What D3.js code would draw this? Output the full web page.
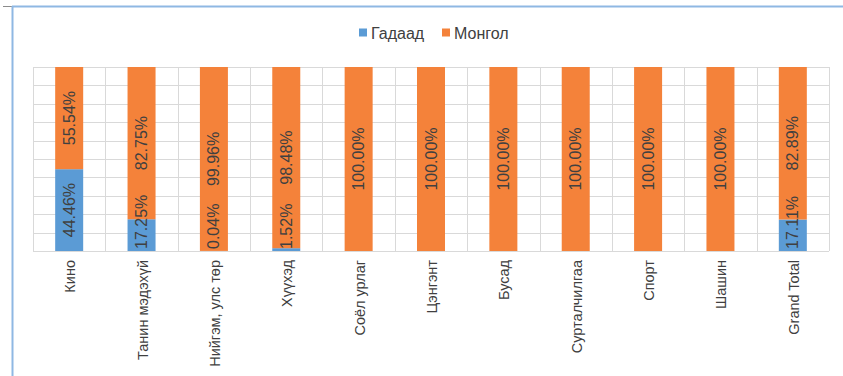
<!DOCTYPE html>
<html>
<head>
<meta charset="utf-8">
<script src="https://cdn.jsdelivr.net/npm/d3@7/dist/d3.min.js"></script>
<style>
  html, body { margin: 0; padding: 0; background: #fff; }
  svg { display: block; font-family: "Liberation Sans", Arial, sans-serif; }
</style>
</head>
<body>
<svg id="chart" width="843" height="376"></svg>
<script>
const categories = ["Кино", "Танин мэдэхүй", "Нийгэм, улс төр", "Хүүхэд", "Соёл урлаг", "Цэнгэнт", "Бусад", "Сурталчилгаа", "Спорт", "Шашин", "Grand Total"];
const gadaad = [44.46, 17.25, 0.04, 1.52, 0, 0, 0, 0, 0, 0, 17.11];
const mongol = [55.54, 82.75, 99.96, 98.48, 100, 100, 100, 100, 100, 100, 82.89];
const seriesNames = ["Гадаад", "Монгол"];
const seriesColors = ["#5B9BD5", "#F4823A"];
const yTicks = [0, 10, 20, 30, 40, 50, 60, 70, 80, 90, 100];

const svg = d3.select("#chart");
const W = 843, H = 376;
const plot = { left: 33, right: 829, top: 67, bottom: 251 };

// frame lines
svg.append("line").attr("x1", 3).attr("x2", 12).attr("y1", 6.5).attr("y2", 6.5)
  .attr("stroke", "#8c8c8c").attr("stroke-width", 1);
svg.append("line").attr("x1", 12).attr("x2", W).attr("y1", 6.5).attr("y2", 6.5)
  .attr("stroke", "#8FB8E3").attr("stroke-width", 2);
svg.append("line").attr("x1", 12.5).attr("x2", 12.5).attr("y1", 6).attr("y2", H)
  .attr("stroke", "#8FB8E3").attr("stroke-width", 2);

const x = d3.scaleBand().domain(categories).range([plot.left, plot.right])
  .paddingInner(0.613).paddingOuter(0.3065);
const y = d3.scaleLinear().domain([0, 100]).range([plot.bottom, plot.top]);

// gridlines
const grid = svg.append("g").attr("stroke", "#D9D9D9").attr("stroke-width", 1);
grid.selectAll("line.h").data(yTicks).join("line").attr("class", "h")
  .attr("x1", plot.left).attr("x2", plot.right)
  .attr("y1", d => Math.round(y(d)) + 0.5).attr("y2", d => Math.round(y(d)) + 0.5);
const step = x.step();
const vIdx = d3.range(categories.length + 1);
grid.selectAll("line.v").data(vIdx).join("line").attr("class", "v")
  .attr("x1", i => Math.round(plot.left + i * step) + 0.5)
  .attr("x2", i => Math.round(plot.left + i * step) + 0.5)
  .attr("y1", plot.top).attr("y2", plot.bottom);

// stacked data
const rows = categories.map((c, i) => ({ cat: c, Гадаад: gadaad[i], Монгол: mongol[i] }));
const stack = d3.stack().keys(seriesNames)(rows);

const bars = svg.append("g");
stack.forEach((layer, si) => {
  bars.selectAll(null).data(layer).join("rect")
    .attr("x", d => x(d.data.cat))
    .attr("width", x.bandwidth())
    .attr("y", d => y(d[1]))
    .attr("height", d => Math.max(0, y(d[0]) - y(d[1])))
    .attr("fill", seriesColors[si]);
});

// bottom axis line
svg.append("line").attr("x1", plot.left).attr("x2", plot.right)
  .attr("y1", plot.bottom + 0.5).attr("y2", plot.bottom + 0.5)
  .attr("stroke", "#D9D9D9").attr("stroke-width", 1);

// data labels
const labels = svg.append("g").attr("font-size", 16).attr("fill", "#404040");
stack.forEach((layer) => {
  layer.forEach(d => {
    const v = d[1] - d[0];
    if (v <= 0) return;
    const cx = x(d.data.cat) + x.bandwidth() / 2;
    const t = labels.append("text")
      .attr("text-anchor", "middle")
      .attr("dominant-baseline", "central")
      .text(v.toFixed(2) + "%");
    const len = t.node().getComputedTextLength();
    let cy = (y(d[0]) + y(d[1])) / 2;
    if (cy + len / 2 > plot.bottom - 2) cy = plot.bottom - 2 - len / 2;
    t.attr("transform", `translate(${cx},${cy}) rotate(-90)`);
  });
});

// category labels
svg.append("g").attr("font-size", 14.5).attr("fill", "#404040")
  .selectAll("text").data(categories).join("text")
  .attr("text-anchor", "end")
  .attr("dominant-baseline", "central")
  .attr("transform", d => `translate(${x(d) + x.bandwidth() / 2 + 1},260) rotate(-90)`)
  .text(d => d);

// legend
const legend = svg.append("g").attr("font-size", 16).attr("fill", "#404040");
const legendX = [359, 442];
seriesNames.forEach((s, i) => {
  legend.append("rect").attr("x", legendX[i]).attr("y", 28.5).attr("width", 8).attr("height", 8)
    .attr("fill", seriesColors[i]);
  legend.append("text").attr("x", legendX[i] + 12).attr("y", 38.5).text(s);
});
</script>
</body>
</html>
